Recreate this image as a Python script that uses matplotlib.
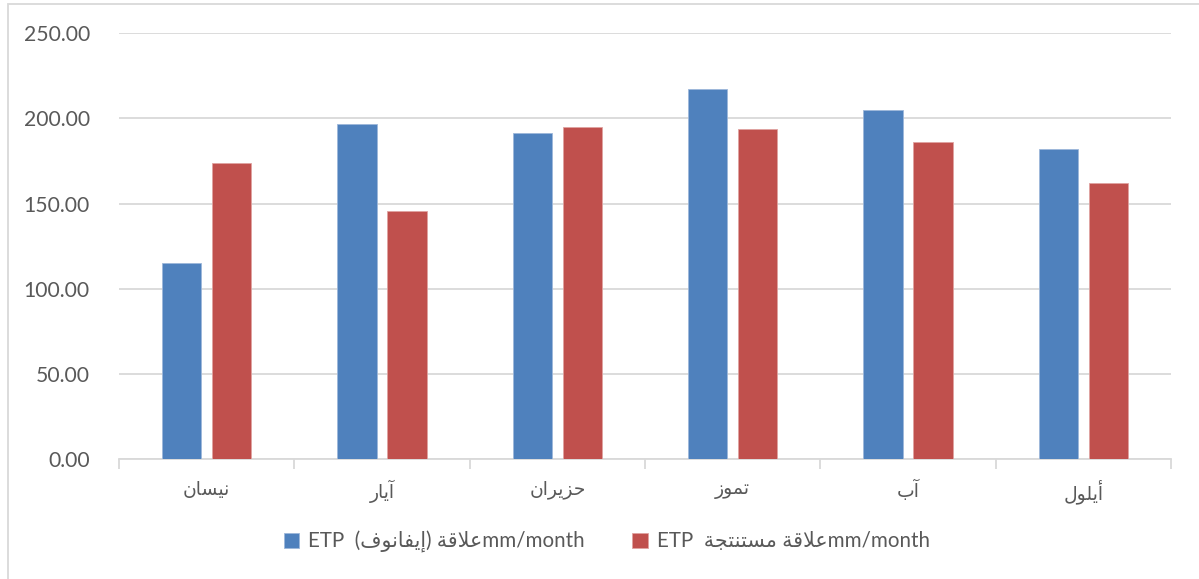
import numpy as np
import matplotlib.pyplot as plt
from matplotlib.patches import Rectangle

# monthly values (mm/month)
months = ['نيسان', 'آيار', 'حزيران', 'تموز', 'آب', 'أيلول']
etp_ivanov = [115.1, 196.5, 191.2, 217.1, 204.9, 181.9]
etp_derived = [173.7, 145.5, 194.7, 193.7, 186.1, 161.8]
yticks = [0, 50, 100, 150, 200, 250]

BLUE = '#4F81BD'
RED = '#C0504D'
GRID = '#D9D9D9'
TEXT = '#595959'

# contextual forms (isolated, final[, initial, medial]) for the letters used
FORMS = {
    'آ': (0xFE81, 0xFE82), 'أ': (0xFE83, 0xFE84), 'إ': (0xFE87, 0xFE88),
    'ا': (0xFE8D, 0xFE8E), 'ة': (0xFE93, 0xFE94), 'ر': (0xFEAD, 0xFEAE),
    'ز': (0xFEAF, 0xFEB0), 'و': (0xFEED, 0xFEEE),
    'ب': (0xFE8F, 0xFE90, 0xFE91, 0xFE92), 'ت': (0xFE95, 0xFE96, 0xFE97, 0xFE98),
    'ج': (0xFE9D, 0xFE9E, 0xFE9F, 0xFEA0), 'ح': (0xFEA1, 0xFEA2, 0xFEA3, 0xFEA4),
    'س': (0xFEB1, 0xFEB2, 0xFEB3, 0xFEB4), 'ع': (0xFEC9, 0xFECA, 0xFECB, 0xFECC),
    'ف': (0xFED1, 0xFED2, 0xFED3, 0xFED4), 'ق': (0xFED5, 0xFED6, 0xFED7, 0xFED8),
    'ل': (0xFEDD, 0xFEDE, 0xFEDF, 0xFEE0), 'م': (0xFEE1, 0xFEE2, 0xFEE3, 0xFEE4),
    'ن': (0xFEE5, 0xFEE6, 0xFEE7, 0xFEE8), 'ي': (0xFEF1, 0xFEF2, 0xFEF3, 0xFEF4),
}
LAM_ALEF = {'ا': (0xFEFB, 0xFEFC)}


def shape(word):
    """Join Arabic letters and return them in left-to-right drawing order."""
    out = []
    joined = False
    i = 0
    while i < len(word):
        c = word[i]
        if c not in FORMS:
            out.append(c)
            joined = False
            i += 1
            continue
        if c == 'ل' and i + 1 < len(word) and word[i + 1] in LAM_ALEF:
            iso, fin = LAM_ALEF[word[i + 1]]
            out.append(chr(fin if joined else iso))
            joined = False
            i += 2
            continue
        f = FORMS[c]
        nxt = i + 1 < len(word) and word[i + 1] in FORMS
        if len(f) == 4 and nxt:
            out.append(chr(f[3] if joined else f[2]))
            joined = True
        else:
            out.append(chr(f[1] if joined else f[0]))
            joined = False
        i += 1
    return ''.join(reversed(out))


label_ivanov = 'ETP  (' + shape('إيفانوف') + ') ' + shape('علاقة') + 'mm/month'
label_derived = 'ETP  ' + shape('مستنتجة') + ' ' + shape('علاقة') + 'mm/month'

fig = plt.figure(figsize=(11.99, 5.79), dpi=100)
ax = fig.add_axes([0.0993, 0.2073, 0.8773, 0.7352])

x = np.arange(len(months))
w = 0.224
ax.bar(x - 0.143, etp_ivanov, w, color=BLUE, edgecolor='#9DB7DA', linewidth=0.6,
       label=label_ivanov, zorder=3)
ax.bar(x + 0.143, etp_derived, w, color=RED, edgecolor='#E0A3A1', linewidth=0.6,
       label=label_derived, zorder=3)

ax.set_xlim(-0.5, len(months) - 0.5)
ax.set_ylim(0, 250)
ax.set_yticks(yticks)
ax.set_yticklabels([f'{v:.2f}' for v in yticks], fontfamily='Lato', fontsize=15.2,
                   color=TEXT)
ax.tick_params(axis='y', length=0, pad=21)
ax.grid(axis='y', color=GRID, linewidth=1.3, zorder=0)
ax.set_axisbelow(True)

ax.set_xticks(x)
ax.set_xticklabels([shape(m) for m in months], fontfamily='DejaVu Sans', fontsize=13.5,
                   color=TEXT)
ax.set_xticks(np.arange(len(months) + 1) - 0.5, minor=True)
ax.tick_params(axis='x', which='major', length=0, pad=15)
ax.tick_params(axis='x', which='minor', length=7, width=1.3, color=GRID)

for side in ['top', 'right', 'left']:
    ax.spines[side].set_visible(False)
ax.spines['bottom'].set_color(GRID)
ax.spines['bottom'].set_linewidth(1.3)

fig.legend(loc='center', bbox_to_anchor=(0.506, 0.064), ncol=2, frameon=False,
           handlelength=0.75, handleheight=0.75, handletextpad=0.45, columnspacing=2.3,
           prop={'family': ['Lato', 'DejaVu Sans'], 'size': 14.8}, labelcolor=TEXT)

# chart frame
fig.patches.append(Rectangle((8 / 1199, -0.05), 1.1, 1 - 4 / 579 + 0.05,
                             transform=fig.transFigure, fill=False,
                             edgecolor=GRID, linewidth=1.3))

fig.savefig('out.png', dpi=100)
